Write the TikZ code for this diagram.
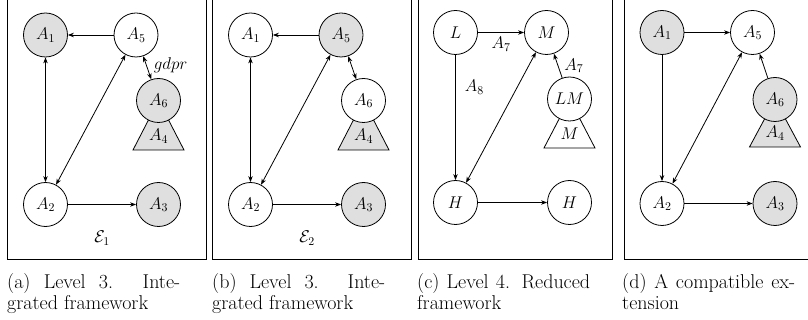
\RequirePackage{fix-cm}
\documentclass[tikz,border=0pt]{standalone}
\usetikzlibrary{arrows.meta,backgrounds}

\tikzset{
  x=1pt, y=-1pt,
  arg/.style={circle, draw, line width=0.8pt, minimum size=44pt, inner sep=0pt,
    fill=white, font=\fontsize{17}{19}\selectfont},
  acc/.style={arg, fill=gray!25},
  trinode/.style={inner sep=0pt, font=\fontsize{17}{19}\selectfont},
  triwhite/.style={draw, line width=0.8pt, fill=white},
  trigray/.style={draw, line width=0.8pt, fill=gray!25},
  lbl/.style={inner sep=1pt, font=\fontsize{17}{19}\selectfont},
  att/.style={line width=0.8pt, -{Stealth[length=6pt,width=4.5pt]}},
  mutual/.style={line width=0.8pt, {Stealth[length=6pt,width=4.5pt]}-{Stealth[length=6pt,width=4.5pt]}},
  frame/.style={draw, line width=0.9pt},
  captext/.style={inner sep=0pt, anchor=base west, font=\fontsize{20}{21.5}\selectfont},
}

\begin{document}
\begin{tikzpicture}
\useasboundingbox (0,0) rectangle (808,320);

% ---------- (a) ----------
\draw[frame] (7,-10) rectangle (206,259);
\node[acc] (a1) at (45.5,35) {$A_1$};
\node[arg] (a5) at (136,35) {$A_5$};
\node[acc] (a6) at (158.5,100.5) {$A_6$};
\node[arg] (a2) at (45.5,204.5) {$A_2$};
\node[acc] (a3) at (158.5,204.5) {$A_3$};
\begin{scope}[on background layer]
  \draw[trigray] (a6.center) -- (133,150) -- (184,150) -- cycle;
\end{scope}
\node[trinode] (a4) at (158.5,136) {$A_4$};
\draw[att] (a5) -- (a1);
\draw[mutual] (a1) -- (a2);
\draw[mutual] (a2) -- (a5);
\draw[mutual] (a5) -- node[lbl, right=6pt, pos=0.4] {$gdpr$} (a6);
\draw[att] (a2) -- (a3);
\node[lbl] (ea) at (102,238) {$\mathcal{E}_1$};

% ---------- (b) ----------
\draw[frame] (212,-10) rectangle (411,259);
\node[arg] (b1) at (250.5,35) {$A_1$};
\node[acc] (b5) at (341,35) {$A_5$};
\node[arg] (b6) at (363.5,100.5) {$A_6$};
\node[arg] (b2) at (250.5,204.5) {$A_2$};
\node[acc] (b3) at (363.5,204.5) {$A_3$};
\begin{scope}[on background layer]
  \draw[trigray] (b6.center) -- (338,150) -- (389,150) -- cycle;
\end{scope}
\node[trinode] (b4) at (363.5,136) {$A_4$};
\draw[att] (b5) -- (b1);
\draw[mutual] (b1) -- (b2);
\draw[mutual] (b2) -- (b5);
\draw[mutual] (b5) -- (b6);
\draw[att] (b2) -- (b3);
\node[lbl] (eb) at (307,238) {$\mathcal{E}_2$};

% ---------- (c) ----------
\draw[frame] (418,-10) rectangle (612,259);
\node[arg] (cl) at (455.5,32.5) {$L$};
\node[arg] (cm) at (546.5,32.5) {$M$};
\node[arg] (clm) at (569.5,99) {$LM$};
\node[arg] (ch) at (455.5,202.5) {$H$};
\node[arg] (ch2) at (569.5,202.5) {$H$};
\begin{scope}[on background layer]
  \draw[triwhite] (clm.center) -- (544,148) -- (595,148) -- cycle;
\end{scope}
\node[trinode] (cm2) at (569.5,134) {$M$};
\draw[att] (cl) -- node[lbl, below=3pt] {$A_7$} (cm);
\draw[att] (cl) -- node[lbl, right=8pt, pos=0.26] {$A_8$} (ch);
\draw[mutual] (ch) -- (cm);
\draw[att] (clm) -- node[lbl, right=5pt, pos=0.5] {$A_7$} (cm);
\draw[att] (ch) -- (ch2);

% ---------- (d) ----------
\draw[frame] (624,-10) rectangle (823,259);
\node[acc] (d1) at (662,32.5) {$A_1$};
\node[arg] (d5) at (752.5,32.5) {$A_5$};
\node[acc] (d6) at (775,99.5) {$A_6$};
\node[arg] (d2) at (662,203.5) {$A_2$};
\node[acc] (d3) at (775,203.5) {$A_3$};
\begin{scope}[on background layer]
  \draw[trigray] (d6.center) -- (749.5,147) -- (800.5,147) -- cycle;
\end{scope}
\node[trinode] (d4) at (775,133) {$A_4$};
\draw[att] (d1) -- (d5);
\draw[att] (d1) -- (d2);
\draw[mutual] (d2) -- (d5);
\draw[att] (d6) -- (d5);
\draw[att] (d2) -- (d3);

% ---------- captions ----------
\node[captext] (capa1) at (7,288) {\makebox[173pt][s]{(a) Level 3. Inte-}};
\node[captext] (capa2) at (7,309) {grated framework};
\node[captext] (capb1) at (212,288) {\makebox[173pt][s]{(b) Level 3. Inte-}};
\node[captext] (capb2) at (212,309) {grated framework};
\node[captext] (capc1) at (417,288) {\makebox[173pt][s]{(c) Level 4. Reduced}};
\node[captext] (capc2) at (417,309) {framework};
\node[captext] (capd1) at (622,288) {\makebox[173pt][s]{(d) A compatible ex-}};
\node[captext] (capd2) at (622,309) {tension};
\end{tikzpicture}
\end{document}
